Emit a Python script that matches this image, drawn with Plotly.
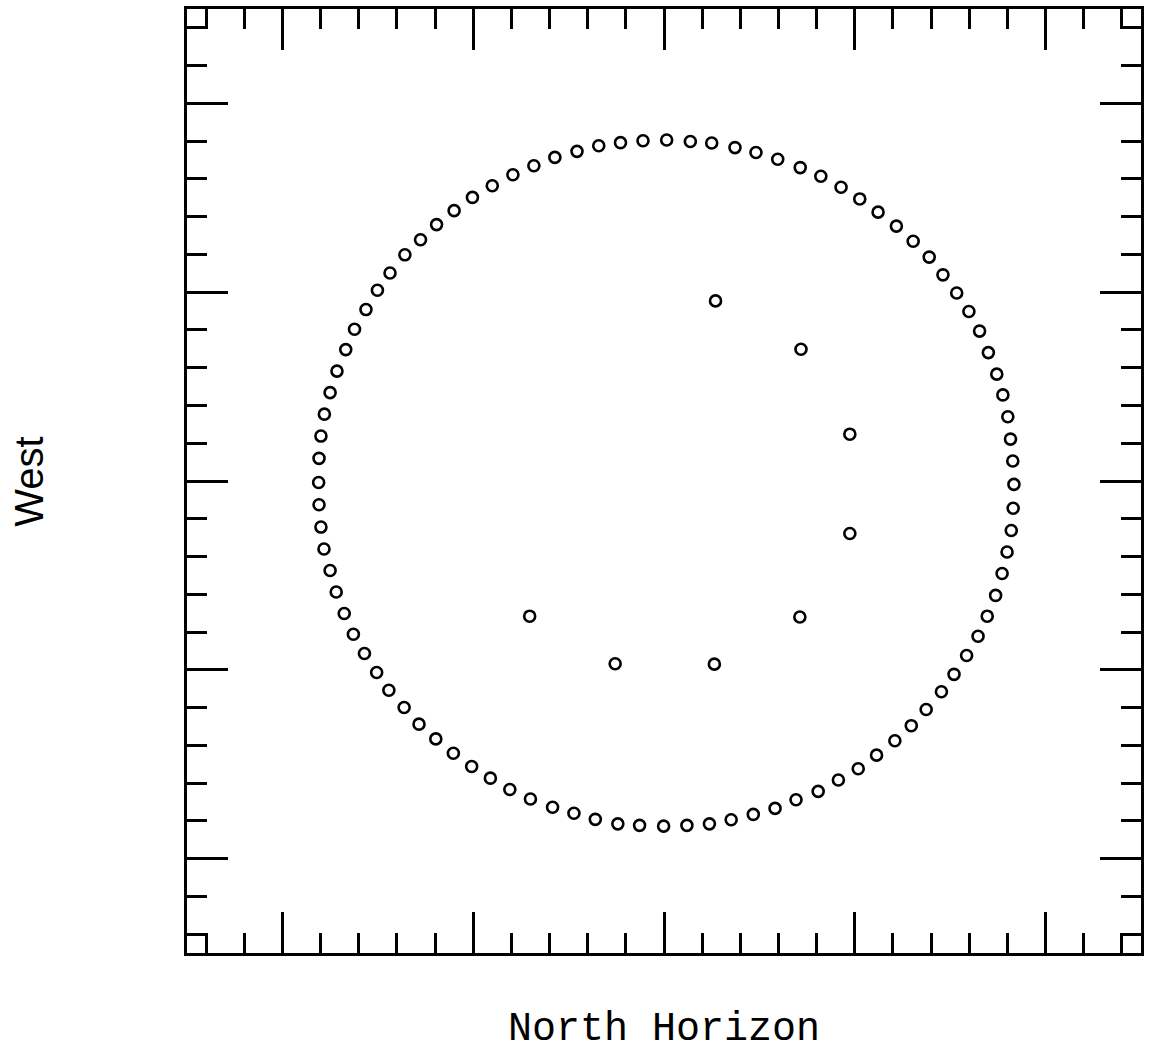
import plotly.graph_objects as go

# Outer ring of points (horizon), in axis units
ring_x = [0.07, -0.55, -1.14, -1.71, -2.28, -2.86, -3.41, -3.96, -4.50, -5.02,
          -5.50, -5.96, -6.38, -6.79, -7.18, -7.51, -7.81, -8.11, -8.34, -8.57,
          -8.75, -8.90, -8.99, -9.04, -9.05, -9.04, -8.99, -8.91, -8.75, -8.59,
          -8.38, -8.14, -7.85, -7.53, -7.21, -6.81, -6.42, -5.98, -5.52, -5.04,
          -4.55, -4.04, -3.50, -2.92, -2.36, -1.80, -1.21, -0.64, -0.01, 0.60,
          1.19, 1.76, 2.34, 2.91, 3.46, 4.04, 4.57, 5.09, 5.57, 6.05,
          6.48, 6.87, 7.27, 7.60, 7.93, 8.23, 8.47, 8.69, 8.86, 8.99,
          9.10, 9.15, 9.17, 9.14, 9.08, 9.01, 8.88, 8.72, 8.50, 8.27,
          7.99, 7.67, 7.31, 6.95, 6.53, 6.09, 5.61, 5.13, 4.64, 4.11,
          3.57, 2.98, 2.41, 1.86, 1.25, 0.69]
ring_y = [9.03, 9.01, 8.96, 8.88, 8.73, 8.57, 8.35, 8.11, 7.82, 7.51,
          7.16, 6.79, 6.39, 5.99, 5.51, 5.05, 4.54, 4.02, 3.48, 2.91,
          2.34, 1.77, 1.19, 0.60, -0.04, -0.63, -1.22, -1.80, -2.37, -2.94,
          -3.51, -4.06, -4.57, -5.07, -5.54, -6.00, -6.44, -6.83, -7.21, -7.56,
          -7.87, -8.17, -8.42, -8.64, -8.80, -8.96, -9.08, -9.12, -9.14, -9.12,
          -9.08, -8.97, -8.83, -8.67, -8.44, -8.22, -7.92, -7.62, -7.26, -6.88,
          -6.48, -6.05, -5.58, -5.12, -4.62, -4.11, -3.58, -3.03, -2.45, -1.88,
          -1.31, -0.72, -0.09, 0.53, 1.11, 1.70, 2.28, 2.83, 3.40, 3.97,
          4.49, 4.98, 5.46, 5.93, 6.35, 6.75, 7.12, 7.47, 7.78, 8.07,
          8.30, 8.52, 8.70, 8.83, 8.95, 8.99]

# Inner points
inner_x = [1.35, 3.59, 4.87, 4.87, 3.56, 1.32, -1.28, -3.52]
inner_y = [4.77, 3.49, 1.24, -1.39, -3.60, -4.85, -4.84, -3.58]

x_title = "North Horizon"
y_title = "West"

fig = go.Figure()
marker = dict(symbol="circle-open", size=11, color="black", line=dict(width=2.6, color="black"))
fig.add_trace(go.Scatter(x=ring_x, y=ring_y, mode="markers", marker=marker,
                         showlegend=False, hoverinfo="skip"))
fig.add_trace(go.Scatter(x=inner_x, y=inner_y, mode="markers", marker=marker,
                         showlegend=False, hoverinfo="skip"))

axis_common = dict(
    range=[-12.5, 12.5],
    showgrid=False, zeroline=False, showticklabels=False,
    showline=True, linecolor="black", linewidth=2.5, mirror="ticks",
    ticks="inside", ticklen=41, tickwidth=2.5, tickcolor="black",
    tick0=0, dtick=5,
    minor=dict(dtick=1, tick0=0, ticks="inside", ticklen=20, tickwidth=2.5,
               tickcolor="black", showgrid=False),
)

fig.update_layout(
    width=1150, height=1057,
    margin=dict(l=187, r=8, t=6, b=104),
    paper_bgcolor="white", plot_bgcolor="white",
    xaxis=axis_common,
    yaxis=axis_common,
    annotations=[
        dict(text=x_title, xref="paper", yref="paper", x=0.5, y=-0.1075,
             xanchor="center", yanchor="bottom", showarrow=False,
             font=dict(family="Liberation Mono", size=40, color="black")),
        dict(text=y_title, xref="paper", yref="paper", x=-0.1654, y=0.4995,
             xanchor="center", yanchor="middle", showarrow=False, textangle=-90,
             font=dict(family="Liberation Sans", size=40, color="black")),
    ],
)

fig.write_html("out.html")
